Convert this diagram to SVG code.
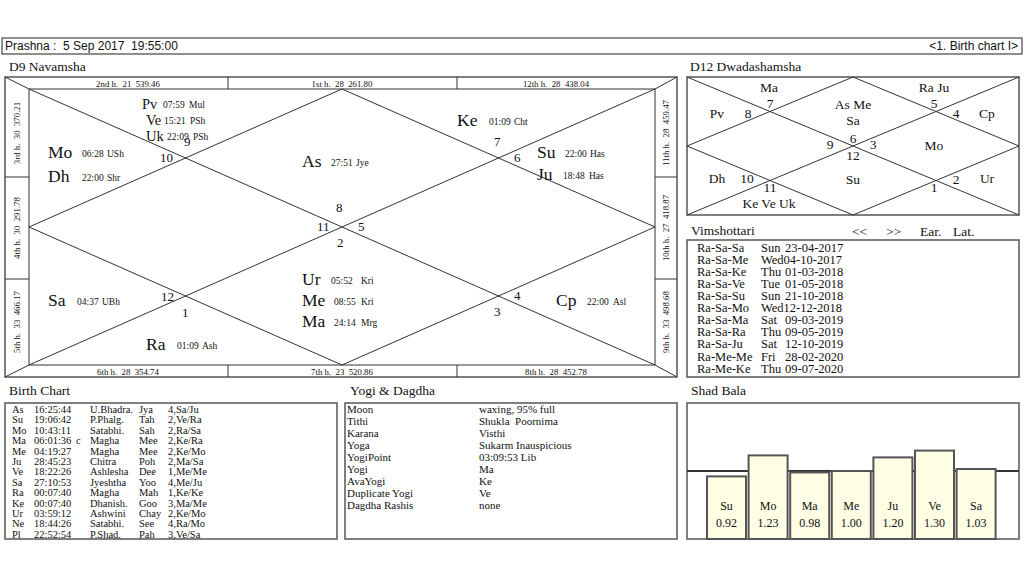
<svg xmlns="http://www.w3.org/2000/svg" width="1024" height="576" viewBox="0 0 1024 576">
<style>
.ser{font-family:"Liberation Serif","Times New Roman",serif;fill:#111}
.sans{font-family:"Liberation Sans",Arial,sans-serif;fill:#111}
.frame{fill:#fff;stroke:#555;stroke-width:1.5}
.ln{fill:none;stroke:#333;stroke-width:1}
.title{font-size:13.5px}
.pl{font-size:17.5px}
.pls{font-size:14.5px}
.deg{font-size:9.5px}
.hn{font-size:13px}
.strip{font-size:8.8px;text-anchor:middle;white-space:pre}
.d12{font-size:13.5px;text-anchor:middle}
.vim{font-size:12.5px}
.tab{font-size:10.5px}
.yog{font-size:11px}
.bar{fill:#fefee4;stroke:#555;stroke-width:2}
.bl{font-size:12px;text-anchor:middle}
</style>
<rect width="1024" height="576" fill="#fff"/>

<g id="header">
<rect x="2" y="38" width="1020" height="16" fill="#fff" stroke="#444" stroke-width="1.2"/>
<text class="sans" x="5" y="50" font-size="12" xml:space="preserve">Prashna :  5 Sep 2017  19:55:00</text>
<text class="sans" x="1018" y="50" font-size="12" text-anchor="end">&lt;1. Birth chart I&gt;</text>
</g>

<g id="d9">
<text class="ser title" x="9" y="71">D9 Navamsha</text>
<rect class="frame" x="5" y="77" width="672" height="300"/>
<rect class="ln" x="29" y="89" width="626" height="276" stroke="#444"/>
<g id="d9-lines" class="ln">
<polyline points="5,77 29,89 655,365 677,377"/>
<polyline points="677,77 655,89 29,365 5,377"/>
<polygon points="342,89 655,227 342,365 29,227"/>
<line x1="228" y1="77" x2="228" y2="89"/>
<line x1="457" y1="77" x2="457" y2="89"/>
<line x1="228" y1="365" x2="228" y2="377"/>
<line x1="457" y1="365" x2="457" y2="377"/>
<line x1="5" y1="177" x2="29" y2="177"/>
<line x1="5" y1="279" x2="29" y2="279"/>
<line x1="655" y1="177" x2="677" y2="177"/>
<line x1="655" y1="279" x2="677" y2="279"/>
</g>
<g id="d9-strips" class="ser strip">
<text xml:space="preserve" x="128" y="86.5">2nd h.  21  539.46</text>
<text xml:space="preserve" x="342" y="86.5">1st h.  28  261.80</text>
<text xml:space="preserve" x="556" y="86.5">12th h.  28  438.04</text>
<text xml:space="preserve" x="128" y="374.5">6th h.  28  354.74</text>
<text xml:space="preserve" x="342" y="374.5">7th h.  23  520.86</text>
<text xml:space="preserve" x="556" y="374.5">8th h.  28  452.78</text>
<text xml:space="preserve" transform="translate(20,133) rotate(-90)">3rd h.  30  370.21</text>
<text xml:space="preserve" transform="translate(20,228) rotate(-90)">4th h.  30  291.78</text>
<text xml:space="preserve" transform="translate(20,322) rotate(-90)">5th h.  33  466.17</text>
<text xml:space="preserve" transform="translate(669,133) rotate(-90)">11th h.  28  459.47</text>
<text xml:space="preserve" transform="translate(669,228) rotate(-90)">10th h.  27  418.87</text>
<text xml:space="preserve" transform="translate(669,322) rotate(-90)">9th h.  33  498.68</text>
</g>
<g id="d9-house-numbers" class="ser hn">
<text x="184" y="146">9</text>
<text x="160" y="162">10</text>
<text x="336" y="212">8</text>
<text x="317" y="231">11</text>
<text x="358" y="231">5</text>
<text x="337" y="247">2</text>
<text x="494" y="146">7</text>
<text x="514" y="162">6</text>
<text x="161" y="301">12</text>
<text x="182" y="317">1</text>
<text x="514" y="300">4</text>
<text x="494" y="316">3</text>
</g>
<g id="d9-planets" class="ser">
<text class="pls" x="142" y="109">Pv</text><text class="deg" x="163" y="108">07:59</text><text class="deg" x="189" y="108">Mul</text>
<text class="pls" x="146" y="125">Ve</text><text class="deg" x="164" y="124">15:21</text><text class="deg" x="190" y="124">PSh</text>
<text class="pls" x="146" y="141">Uk</text><text class="deg" x="167" y="140">22:09</text><text class="deg" x="193" y="140">PSh</text>
<text class="pl" x="48" y="158">Mo</text><text class="deg" x="82" y="157">06:28</text><text class="deg" x="107" y="157">USh</text>
<text class="pl" x="48" y="182">Dh</text><text class="deg" x="82" y="181">22:00</text><text class="deg" x="107" y="181">Shr</text>
<text class="pl" x="302" y="167">As</text><text class="deg" x="331" y="166">27:51</text><text class="deg" x="356" y="166">Jye</text>
<text class="pl" x="457" y="126">Ke</text><text class="deg" x="489" y="125">01:09</text><text class="deg" x="514" y="125">Cht</text>
<text class="pl" x="537" y="158">Su</text><text class="deg" x="565" y="157">22:00</text><text class="deg" x="590" y="157">Has</text>
<text class="pl" x="537" y="180">Ju</text><text class="deg" x="563" y="179">18:48</text><text class="deg" x="589" y="179">Has</text>
<text class="pl" x="302" y="285">Ur</text><text class="deg" x="331" y="284">05:52</text><text class="deg" x="361" y="284">Kri</text>
<text class="pl" x="302" y="306">Me</text><text class="deg" x="334" y="305">08:55</text><text class="deg" x="361" y="305">Kri</text>
<text class="pl" x="302" y="327">Ma</text><text class="deg" x="334" y="326">24:14</text><text class="deg" x="361" y="326">Mrg</text>
<text class="pl" x="48" y="306">Sa</text><text class="deg" x="77" y="305">04:37</text><text class="deg" x="102" y="305">UBh</text>
<text class="pl" x="146" y="350">Ra</text><text class="deg" x="177" y="349">01:09</text><text class="deg" x="202" y="349">Ash</text>
<text class="pl" x="556" y="306">Cp</text><text class="deg" x="587" y="305">22:00</text><text class="deg" x="613" y="305">Asl</text>
</g>
</g>

<g id="d12">
<text class="ser title" x="690" y="71">D12 Dwadashamsha</text>
<rect class="frame" x="687" y="77" width="332" height="138"/>
<g id="d12-lines" class="ln">
<line x1="687" y1="77" x2="1019" y2="215"/>
<line x1="1019" y1="77" x2="687" y2="215"/>
<polygon points="853,77 1019,146 853,215 687,146"/>
</g>
<g class="ser d12">
<text x="769" y="92">Ma</text>
<text x="934" y="92">Ra Ju</text>
<text x="770" y="108">7</text>
<text x="717" y="118">Pv</text>
<text x="748" y="118">8</text>
<text x="853" y="109">As Me</text>
<text x="853" y="125">Sa</text>
<text x="934" y="108">5</text>
<text x="956" y="118">4</text>
<text x="987" y="118">Cp</text>
<text x="853" y="143">6</text>
<text x="830" y="149">9</text>
<text x="873" y="149">3</text>
<text x="853" y="160">12</text>
<text x="934" y="150">Mo</text>
<text x="717" y="183">Dh</text>
<text x="747" y="183">10</text>
<text x="853" y="184">Su</text>
<text x="956" y="184">2</text>
<text x="987" y="183">Ur</text>
<text x="770" y="192">11</text>
<text x="934" y="192">1</text>
<text x="769" y="208">Ke Ve Uk</text>
</g>
</g>

<g id="vimshottari">
<text class="ser title" x="691" y="235">Vimshottari</text>
<text class="ser title" x="852" y="236">&lt;&lt;</text>
<text class="ser title" x="886" y="236">&gt;&gt;</text>
<text class="ser title" x="920" y="236">Ear.</text>
<text class="ser title" x="953" y="236">Lat.</text>
<rect class="frame" x="687" y="240" width="332" height="137"/>
<g class="ser vim">
<text y="252"><tspan x="697">Ra-Sa-Sa</tspan><tspan x="761">Sun</tspan><tspan x="785">23-04-2017</tspan></text>
<text y="264"><tspan x="697">Ra-Sa-Me</tspan><tspan x="761">Wed04-10-2017</tspan></text>
<text y="276"><tspan x="697">Ra-Sa-Ke</tspan><tspan x="761">Thu</tspan><tspan x="785">01-03-2018</tspan></text>
<text y="288"><tspan x="697">Ra-Sa-Ve</tspan><tspan x="761">Tue</tspan><tspan x="785">01-05-2018</tspan></text>
<text y="300"><tspan x="697">Ra-Sa-Su</tspan><tspan x="761">Sun</tspan><tspan x="785">21-10-2018</tspan></text>
<text y="312"><tspan x="697">Ra-Sa-Mo</tspan><tspan x="761">Wed12-12-2018</tspan></text>
<text y="324"><tspan x="697">Ra-Sa-Ma</tspan><tspan x="761">Sat</tspan><tspan x="785">09-03-2019</tspan></text>
<text y="336"><tspan x="697">Ra-Sa-Ra</tspan><tspan x="761">Thu</tspan><tspan x="785">09-05-2019</tspan></text>
<text y="348"><tspan x="697">Ra-Sa-Ju</tspan><tspan x="761">Sat</tspan><tspan x="785">12-10-2019</tspan></text>
<text y="361"><tspan x="697">Ra-Me-Me</tspan><tspan x="761">Fri</tspan><tspan x="785">28-02-2020</tspan></text>
<text y="373"><tspan x="697">Ra-Me-Ke</tspan><tspan x="761">Thu</tspan><tspan x="785">09-07-2020</tspan></text>
</g>
</g>

<defs>
<clipPath id="bcClip"><rect x="5" y="403" width="332" height="136"/></clipPath>
</defs>

<g id="birthchart">
<text class="ser title" x="9" y="395">Birth Chart</text>
<rect class="frame" x="5" y="403" width="332" height="136"/>
<g class="ser tab" clip-path="url(#bcClip)">
<text y="413"><tspan x="12">As</tspan><tspan x="34">16:25:44</tspan><tspan x="90">U.Bhadra.</tspan><tspan x="139">Jya</tspan><tspan x="168">4,Sa/Ju</tspan></text>
<text y="423.4"><tspan x="12">Su</tspan><tspan x="34">19:06:42</tspan><tspan x="90">P.Phalg.</tspan><tspan x="139">Tah</tspan><tspan x="168">2,Ve/Ra</tspan></text>
<text y="433.8"><tspan x="12">Mo</tspan><tspan x="34">10:43:11</tspan><tspan x="90">Satabhi.</tspan><tspan x="139">Sah</tspan><tspan x="168">2,Ra/Sa</tspan></text>
<text y="444.2"><tspan x="12">Ma</tspan><tspan x="34">06:01:36</tspan><tspan x="76">c</tspan><tspan x="90">Magha</tspan><tspan x="139">Mee</tspan><tspan x="168">2,Ke/Ra</tspan></text>
<text y="454.6"><tspan x="12">Me</tspan><tspan x="34">04:19:27</tspan><tspan x="90">Magha</tspan><tspan x="139">Mee</tspan><tspan x="168">2,Ke/Mo</tspan></text>
<text y="465"><tspan x="12">Ju</tspan><tspan x="34">28:45:23</tspan><tspan x="90">Chitra</tspan><tspan x="139">Poh</tspan><tspan x="168">2,Ma/Sa</tspan></text>
<text y="475.4"><tspan x="12">Ve</tspan><tspan x="34">18:22:26</tspan><tspan x="90">Ashlesha</tspan><tspan x="139">Dee</tspan><tspan x="168">1,Me/Me</tspan></text>
<text y="485.8"><tspan x="12">Sa</tspan><tspan x="34">27:10:53</tspan><tspan x="90">Jyeshtha</tspan><tspan x="139">Yoo</tspan><tspan x="168">4,Me/Ju</tspan></text>
<text y="496.2"><tspan x="12">Ra</tspan><tspan x="34">00:07:40</tspan><tspan x="90">Magha</tspan><tspan x="139">Mah</tspan><tspan x="168">1,Ke/Ke</tspan></text>
<text y="506.6"><tspan x="12">Ke</tspan><tspan x="34">00:07:40</tspan><tspan x="90">Dhanish.</tspan><tspan x="139">Goo</tspan><tspan x="168">3,Ma/Me</tspan></text>
<text y="517"><tspan x="12">Ur</tspan><tspan x="34">03:59:12</tspan><tspan x="90">Ashwini</tspan><tspan x="139">Chay</tspan><tspan x="168">2,Ke/Mo</tspan></text>
<text y="527.4"><tspan x="12">Ne</tspan><tspan x="34">18:44:26</tspan><tspan x="90">Satabhi.</tspan><tspan x="139">See</tspan><tspan x="168">4,Ra/Mo</tspan></text>
<text y="537.8"><tspan x="12">Pl</tspan><tspan x="34">22:52:54</tspan><tspan x="90">P.Shad.</tspan><tspan x="139">Pah</tspan><tspan x="168">3,Ve/Sa</tspan></text>
</g>
</g>

<g id="yogi">
<text class="ser title" x="350" y="395">Yogi &amp; Dagdha</text>
<rect class="frame" x="345" y="403" width="332" height="136"/>
<g class="ser yog">
<text y="413"><tspan x="347">Moon</tspan><tspan x="479">waxing, 95% full</tspan></text>
<text y="425"><tspan x="347">Tithi</tspan><tspan x="479" xml:space="preserve">Shukla  Poornima</tspan></text>
<text y="437"><tspan x="347">Karana</tspan><tspan x="479">Visthi</tspan></text>
<text y="449"><tspan x="347">Yoga</tspan><tspan x="479">Sukarm Inauspicious</tspan></text>
<text y="461"><tspan x="347">YogiPoint</tspan><tspan x="479">03:09:53 Lib</tspan></text>
<text y="473"><tspan x="347">Yogi</tspan><tspan x="479">Ma</tspan></text>
<text y="485"><tspan x="347">AvaYogi</tspan><tspan x="479">Ke</tspan></text>
<text y="497"><tspan x="347">Duplicate Yogi</tspan><tspan x="479">Ve</tspan></text>
<text y="509"><tspan x="347">Dagdha Rashis</tspan><tspan x="479">none</tspan></text>
</g>
</g>

<g id="shadbala">
<text class="ser title" x="691" y="395">Shad Bala</text>
<rect class="frame" x="687" y="403" width="332" height="136"/>
<line x1="687" y1="471" x2="1019" y2="471" stroke="#333" stroke-width="2"/>
<g id="bar-su"><rect class="bar" x="707" y="476.4" width="39" height="62.6"/><text class="ser bl" x="726.5" y="510">Su</text><text class="ser bl" x="726.5" y="527">0.92</text></g>
<g id="bar-mo"><rect class="bar" x="748.6" y="455.4" width="39" height="83.6"/><text class="ser bl" x="768.1" y="510">Mo</text><text class="ser bl" x="768.1" y="527">1.23</text></g>
<g id="bar-ma"><rect class="bar" x="790.2" y="472.4" width="39" height="66.6"/><text class="ser bl" x="809.7" y="510">Ma</text><text class="ser bl" x="809.7" y="527">0.98</text></g>
<g id="bar-me"><rect class="bar" x="831.8" y="471" width="39" height="68"/><text class="ser bl" x="851.3" y="510">Me</text><text class="ser bl" x="851.3" y="527">1.00</text></g>
<g id="bar-ju"><rect class="bar" x="873.4" y="457.4" width="39" height="81.6"/><text class="ser bl" x="892.9" y="510">Ju</text><text class="ser bl" x="892.9" y="527">1.20</text></g>
<g id="bar-ve"><rect class="bar" x="915" y="450.6" width="39" height="88.4"/><text class="ser bl" x="934.5" y="510">Ve</text><text class="ser bl" x="934.5" y="527">1.30</text></g>
<g id="bar-sa"><rect class="bar" x="956.6" y="469" width="39" height="70"/><text class="ser bl" x="976.1" y="510">Sa</text><text class="ser bl" x="976.1" y="527">1.03</text></g>
</g>
</svg>
